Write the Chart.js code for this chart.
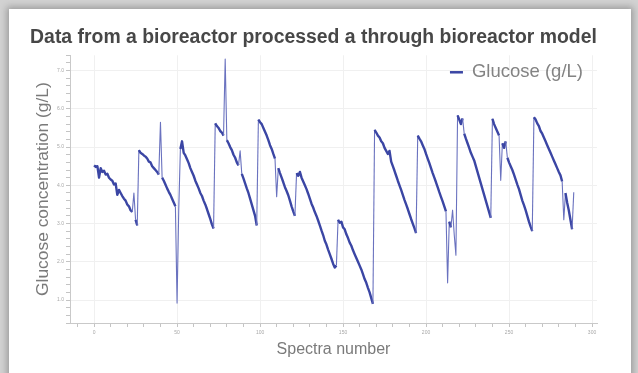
<!DOCTYPE html>
<html>
<head>
<meta charset="utf-8">
<script src="https://cdn.jsdelivr.net/npm/chart.js@4.4.1/dist/chart.umd.min.js"></script>
<style>
  html, body { margin:0; padding:0; width:638px; height:373px; overflow:hidden; background:#d2d2d2; }
  #panel { position:absolute; left:9px; top:9px; width:622px; height:380px; background:#fff;
           box-shadow:0 0 7px 2px rgba(0,0,0,0.28); }
  #c { position:absolute; left:0; top:0; }
</style>
</head>
<body>
<div id="panel"></div>
<canvas id="c" width="638" height="373"></canvas>
<script>
const chartTitle = 'Data from a bioreactor processed a through bioreactor model';
const seriesName = 'Glucose (g/L)';
const xTitle = 'Spectra number';
const yTitle = 'Glucose concentration (g/L)';
const xMajorTicks = [0, 50, 100, 150, 200, 250, 300];
const yMajorTicks = [1, 2, 3, 4, 5, 6, 7];

// glucose reading per spectrum (index = spectra number)
const glucose = [
  // 0-26
  4.52,4.48,4.5,4.2,4.45,4.35,4.38,4.28,4.3,4.2,4.15,4.12,4.02,4.05,3.75,3.88,3.8,3.72,3.65,3.6,3.5,3.45,3.35,3.3,3.8,3.1,2.95,
  // 27-51
  4.92,4.85,4.82,4.78,4.75,4.7,4.62,4.6,4.5,4.45,4.4,4.35,4.28,5.65,4.2,4.12,4.02,3.92,3.83,3.75,3.65,3.55,3.45,0.92,3.35,
  // 52-72
  4.95,5.15,4.85,4.78,4.68,4.58,4.45,4.35,4.25,4.12,4.02,3.92,3.8,3.72,3.6,3.5,3.38,3.25,3.12,2.98,2.87,
  // 73-98
  5.62,5.55,5.5,5.42,5.38,5.3,7.3,5.18,5.1,5.0,4.92,4.8,4.72,4.6,4.52,4.9,4.3,4.18,4.05,3.92,3.8,3.65,3.5,3.35,3.2,2.95,
  // 99-121
  5.72,5.65,5.6,5.5,5.4,5.3,5.18,5.05,4.95,4.82,4.7,3.7,4.45,4.32,4.2,4.08,3.95,3.85,3.74,3.6,3.45,3.32,3.2,
  // 122-146
  4.32,4.25,4.35,4.2,4.1,4.0,3.9,3.78,3.65,3.52,3.42,3.3,3.2,3.08,2.95,2.82,2.7,2.55,2.45,2.32,2.2,2.08,1.95,1.85,1.9,
  // 147-168
  3.1,3.02,3.05,2.9,2.85,2.72,2.62,2.5,2.42,2.3,2.2,2.1,2.0,1.9,1.8,1.68,1.55,1.45,1.32,1.2,1.05,0.9,
  // 169-194
  5.45,5.38,5.3,5.25,5.15,5.1,4.98,4.9,4.82,4.9,4.62,4.5,4.38,4.25,4.12,4.0,3.88,3.75,3.62,3.5,3.38,3.25,3.12,3.0,2.88,2.75,
  // 195-218
  5.3,5.22,5.15,5.05,4.95,4.82,4.7,4.58,4.45,4.32,4.2,4.08,3.95,3.82,3.7,3.58,3.45,3.32,1.45,3.05,2.9,3.35,2.7,2.17,
  // 219-239
  5.83,5.72,5.6,5.75,5.35,5.22,5.1,4.98,4.85,4.75,4.65,4.5,4.35,4.2,4.05,3.9,3.75,3.6,3.45,3.3,3.15,
  // 240-264
  5.74,5.6,5.5,5.4,5.3,4.13,5.1,4.98,5.15,4.72,4.6,4.5,4.4,4.28,4.15,4.02,3.9,3.75,3.6,3.48,3.35,3.2,3.05,2.92,2.8,
  // 265-289
  5.78,5.72,5.62,5.55,5.42,5.35,5.25,5.15,5.05,4.95,4.85,4.75,4.65,4.55,4.45,4.35,4.26,4.1,3.1,3.8,3.55,3.35,3.1,2.85,3.82
];
const spectra = glucose.map((_, i) => i);

const LINE = '#3b46a4';
const SPIKE = '#6a72bf';
const FONT = "'Liberation Sans', Arial, Helvetica, sans-serif";
const isMajor = (v, list) => list.some(t => Math.abs(t - v) < 1e-6);
const isJump = c => Math.abs(c.p1.parsed.y - c.p0.parsed.y) > 0.35;

// legend drawn inside the plot area, top-right
const insideLegend = {
  id: 'insideLegend',
  afterDatasetsDraw(chart) {
    const { ctx, chartArea } = chart;
    const ds = chart.data.datasets[0];
    ctx.save();
    ctx.font = `18.5px ${FONT}`;
    const w = ctx.measureText(ds.label).width;
    const right = chartArea.right - 14;
    const y = chartArea.top + 17;
    const tx = right - w;
    ctx.strokeStyle = ds.borderColor;
    ctx.lineWidth = 2.5;
    ctx.beginPath();
    ctx.moveTo(tx - 22, y);
    ctx.lineTo(tx - 9, y);
    ctx.stroke();
    ctx.fillStyle = '#838383';
    ctx.textBaseline = 'middle';
    ctx.textAlign = 'left';
    ctx.fillText(ds.label, tx, y);
    ctx.restore();
  }
};

new Chart(document.getElementById('c'), {
  type: 'line',
  data: {
    labels: spectra,
    datasets: [{
      label: seriesName,
      data: glucose,
      borderColor: LINE,
      backgroundColor: LINE,
      borderWidth: 2.4,
      borderJoinStyle: 'round',
      pointRadius: 0,
      tension: 0,
      segment: {
        borderWidth: c => isJump(c) ? 1.1 : undefined,
        borderColor: c => isJump(c) ? SPIKE : undefined
      }
    }]
  },
  plugins: [insideLegend],
  options: {
    responsive: false,
    animation: false,
    events: [],
    layout: { padding: { left: 30, right: 41, top: 26, bottom: 0 } },
    plugins: {
      title: {
        display: true, text: chartTitle, color: '#474747',
        font: { family: FONT, size: 19.4, weight: 'bold' },
        padding: { top: 0, bottom: 6 }
      },
      legend: { display: false },
      tooltip: { enabled: false }
    },
    scales: {
      x: {
        type: 'linear', min: -14.5, max: 303,
        afterFit: s => { s.height = 50; },
        border: { color: '#c9c9c9' },
        grid: {
          color: c => isMajor(c.tick.value, xMajorTicks) ? '#f0f0f0' : 'rgba(0,0,0,0)',
          tickColor: '#c4c4c4', tickLength: 4
        },
        ticks: {
          stepSize: 10, includeBounds: false, autoSkip: false, maxRotation: 0,
          padding: 3, color: '#a8a8a8', font: { family: FONT, size: 5 },
          callback: v => isMajor(v, xMajorTicks) ? String(v) : ''
        },
        title: {
          display: true, text: xTitle, color: '#7a7a7a',
          font: { family: FONT, size: 16 }, padding: { top: 0, bottom: 14 }
        }
      },
      y: {
        type: 'linear', min: 0.4, max: 7.4,
        afterFit: s => { s.width = 40; },
        border: { color: '#c9c9c9' },
        grid: {
          color: c => isMajor(c.tick.value, yMajorTicks) ? '#f0f0f0' : 'rgba(0,0,0,0)',
          tickColor: '#c4c4c4', tickLength: 4
        },
        ticks: {
          stepSize: 0.2, includeBounds: false, autoSkip: false,
          padding: 2, color: '#a8a8a8', font: { family: FONT, size: 5 },
          callback: v => isMajor(v, yMajorTicks) ? Number(v).toFixed(1) : ''
        },
        title: {
          display: true, text: yTitle, color: '#7a7a7a',
          font: { family: FONT, size: 17.4 }, padding: { top: 3, bottom: 3 }
        }
      }
    }
  }
});
</script>
</body>
</html>
